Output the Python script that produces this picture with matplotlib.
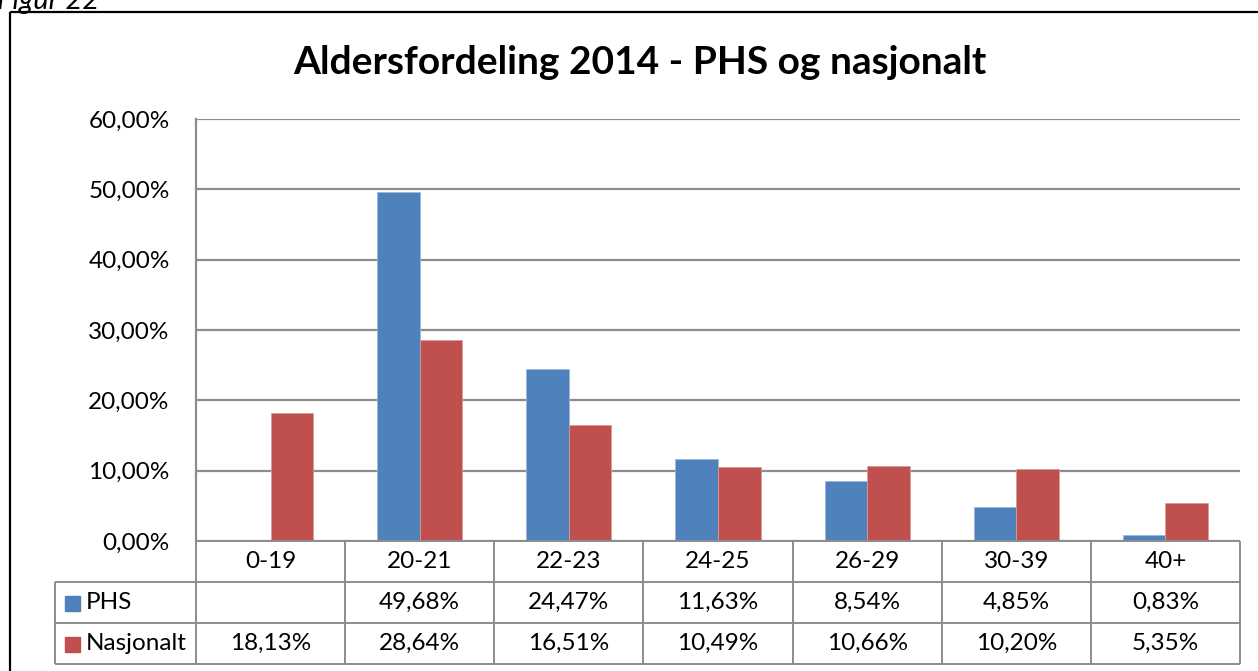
import matplotlib.pyplot as plt
import numpy as np

categories = ["0-19", "20-21", "22-23", "24-25", "26-29", "30-39", "40+"]
phs = [None, 49.68, 24.47, 11.63, 8.54, 4.85, 0.83]
nasjonalt = [18.13, 28.64, 16.51, 10.49, 10.66, 10.20, 5.35]
series_names = ["PHS", "Nasjonalt"]
y_ticks = [0, 10, 20, 30, 40, 50, 60]

BLUE = "#4F81BD"
RED = "#C0504D"
GRID = "#8C8C8C"
FONT = ["Lato", "DejaVu Sans"]
FS = 17.5

W, H = 1258, 671


def pct(v):
    if v is None:
        return ""
    return f"{v:.2f}".replace(".", ",") + "%"


plt.rcParams["font.family"] = FONT

fig = plt.figure(figsize=(W / 100, H / 100), dpi=100)
fig.patch.set_facecolor("white")

# plot area in pixels
left, right, top, bottom = 196, 1240, 119, 541
ax = fig.add_axes([left / W, (H - bottom) / H, (right - left) / W, (bottom - top) / H])

n = len(categories)
x = np.arange(n)
w = 0.2857
phs_vals = [np.nan if v is None else v for v in phs]
ax.bar(x - w / 2, phs_vals, width=w, color=BLUE, edgecolor="#9DB7DA", linewidth=0.6, zorder=3)
ax.bar(x + w / 2, nasjonalt, width=w, color=RED, edgecolor="#DA9A98", linewidth=0.6, zorder=3)

ax.set_xlim(-0.5, n - 0.5)
ax.set_ylim(0, 60)
ax.set_yticks(y_ticks)
ax.set_yticklabels([pct(t) for t in y_ticks], fontsize=FS)
ax.yaxis.grid(True, color=GRID, linewidth=1.6, zorder=0)
ax.tick_params(axis="y", length=0, pad=19)
ax.set_xticks([])
for s in ["top", "right", "bottom"]:
    ax.spines[s].set_visible(False)
ax.spines["left"].set_color(GRID)
ax.spines["left"].set_linewidth(1.6)

# overlay in pixel coordinates for table, border, title
ov = fig.add_axes([0, 0, 1, 1], zorder=5)
ov.set_xlim(0, W)
ov.set_ylim(H, 0)
ov.axis("off")
ov.patch.set_alpha(0)

ov.plot([10, 10], [12, H + 5], color="black", lw=1.6, solid_capstyle="butt")
ov.plot([10, W + 5], [12, 12], color="black", lw=1.6, solid_capstyle="butt")
ov.text(-3, 9, "Figur 22", fontsize=21, style="italic", ha="left", va="baseline")

ov.text(640, 63, "Aldersfordeling 2014 - PHS og nasjonalt", fontsize=28,
        fontweight="bold", ha="center", va="center")

# data table
rows = [541, 582, 623, 664]
col_w = (right - left) / n
cols = [left + i * col_w for i in range(n + 1)]
leg_x = 55
tl = dict(color=GRID, lw=1.4, solid_capstyle="butt")

ov.plot([left, right], [rows[0], rows[0]], **tl)
for r in rows[1:]:
    ov.plot([leg_x, right], [r, r], **tl)
for c in cols:
    ov.plot([c, c], [rows[0], rows[-1]], **tl)
ov.plot([leg_x, leg_x], [rows[1], rows[-1]], **tl)

for i, cat in enumerate(categories):
    cx = cols[i] + col_w / 2
    ov.text(cx, (rows[0] + rows[1]) / 2, cat, fontsize=FS, ha="center", va="center")
    ov.text(cx, (rows[1] + rows[2]) / 2, pct(phs[i]), fontsize=FS, ha="center", va="center")
    ov.text(cx, (rows[2] + rows[3]) / 2, pct(nasjonalt[i]), fontsize=FS, ha="center", va="center")

for j, (name, col) in enumerate(zip(series_names, [BLUE, RED])):
    cy = (rows[j + 1] + rows[j + 2]) / 2
    ov.add_patch(plt.Rectangle((65, cy - 7), 15, 15, color=col))
    ov.text(86, cy, name, fontsize=FS, ha="left", va="center")

fig.savefig("out.png", dpi=100, facecolor="white")
